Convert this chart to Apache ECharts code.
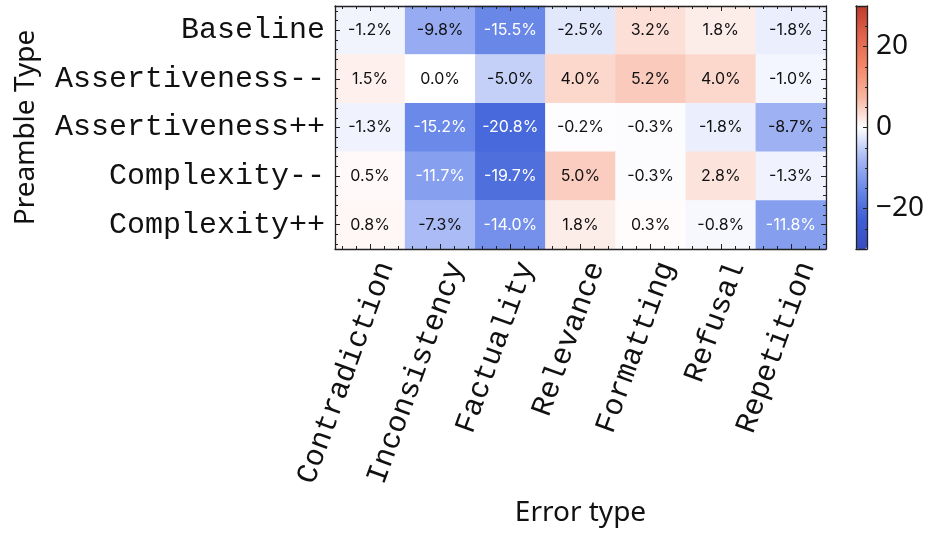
<!DOCTYPE html>
<html>
<head>
<meta charset="utf-8">
<script src="https://cdn.jsdelivr.net/npm/echarts@6/dist/echarts.min.js"></script>
<style>
html,body{margin:0;padding:0;background:#fff;}
#main{width:932px;height:533px;}
</style>
</head>
<body>
<div id="main"></div>
<script>
// categories
const errorTypes = ['Contradiction', 'Inconsistency', 'Factuality', 'Relevance', 'Formatting', 'Refusal', 'Repetition'];
const preambleTypes = ['Baseline', 'Assertiveness--', 'Assertiveness++', 'Complexity--', 'Complexity++'];

// values (%), one array per preamble row
const baseline = [-1.2, -9.8, -15.5, -2.5, 3.2, 1.8, -1.8];
const assertivenessMinus = [1.5, 0.0, -5.0, 4.0, 5.2, 4.0, -1.0];
const assertivenessPlus = [-1.3, -15.2, -20.8, -0.2, -0.3, -1.8, -8.7];
const complexityMinus = [0.5, -11.7, -19.7, 5.0, -0.3, 2.8, -1.3];
const complexityPlus = [0.8, -7.3, -14.0, 1.8, 0.3, -0.8, -11.8];

// colorbar
const cbMin = -30, cbMax = 30;
const cbTicks = [-20, 0, 20];
const cbMinorTicks = [-25, -15, -10, -5, 5, 10, 15, 25];

const rows = [baseline, assertivenessMinus, assertivenessPlus, complexityMinus, complexityPlus];
let heat = [];
rows.forEach(function (r, yi) {
	r.forEach(function (v, xi) { heat.push([xi, yi, v]); });
});

// frame ticks (major at cell centres, minor at fifths)
function minorOf(n) {
	let out = [];
	for (let k = -2; k <= n * 5 + 2; k++) {
		if (k % 5 === 0) continue;
		out.push(+(k / 5).toFixed(2));
	}
	return out;
}
const majX = errorTypes.map(function (d, i) { return i; });
const majY = preambleTypes.map(function (d, i) { return i; });
const minX = minorOf(errorTypes.length - 1);
const minY = minorOf(preambleTypes.length - 1);

const lineCol = '#222';
const monoFont = '"Liberation Mono", "DejaVu Sans Mono", monospace';
const sansFont = '"Noto Sans", sans-serif';

function tickAxis(dim, pos, n, vals, len, showLine, grid, mn, mx) {
	return {
		type: 'value', gridIndex: grid === undefined ? 0 : grid, position: pos, z: 10,
		min: mn === undefined ? -0.5 : mn, max: mx === undefined ? n - 0.5 : mx,
		inverse: dim === 'y' && grid === undefined,
		axisLine: {show: showLine, onZero: false, lineStyle: {color: lineCol, width: 1.3}},
		axisTick: {show: true, inside: true, length: len, customValues: vals, lineStyle: {color: lineCol, width: 1}},
		axisLabel: {show: false},
		splitLine: {show: false}
	};
}

let chart = echarts.init(document.getElementById('main'));
chart.setOption({
	animation: false,
	backgroundColor: '#fff',
	grid: [
		{left: 335, top: 6, width: 491, height: 243},
		{left: 856, top: 6, width: 11, height: 243}
	],
	xAxis: [
		{
			type: 'category', data: errorTypes, position: 'bottom', z: 10,
			name: 'Error type', nameLocation: 'middle', nameGap: 250,
			nameTextStyle: {fontFamily: sansFont, fontSize: 28, color: '#111'},
			axisLine: {show: true, onZero: false, lineStyle: {color: lineCol, width: 1.3}},
			axisTick: {show: true, inside: true, alignWithLabel: true, length: 5, lineStyle: {color: lineCol}},
			// blank first line pushes the rotated text sideways, like matplotlib's centred labels
			axisLabel: {rotate: 70, margin: 8, lineHeight: 34, fontFamily: monoFont, fontSize: 30, color: '#111', interval: 0,
				formatter: function (v) { return '\n' + v; }},
			splitLine: {show: false}
		},
		tickAxis('x', 'bottom', errorTypes.length, minX, 3, false),
		tickAxis('x', 'top', errorTypes.length, majX, 5, true),
		tickAxis('x', 'top', errorTypes.length, minX, 3, false),
		tickAxis('x', 'bottom', 1, [], 0, true, 1, 0, 1),
		tickAxis('x', 'top', 1, [], 0, true, 1, 0, 1)
	],
	yAxis: [
		{
			type: 'category', data: preambleTypes, inverse: true, position: 'left', z: 10,
			name: 'Preamble Type', nameLocation: 'middle', nameGap: 295,
			nameTextStyle: {fontFamily: sansFont, fontSize: 28, color: '#111'},
			axisLine: {show: true, onZero: false, lineStyle: {color: lineCol, width: 1.3}},
			axisTick: {show: true, inside: true, alignWithLabel: true, length: 5, lineStyle: {color: lineCol}},
			axisLabel: {margin: 10, fontFamily: monoFont, fontSize: 30, color: '#111'},
			splitLine: {show: false}
		},
		tickAxis('y', 'left', preambleTypes.length, minY, 3, false),
		tickAxis('y', 'right', preambleTypes.length, majY, 5, true),
		tickAxis('y', 'right', preambleTypes.length, minY, 3, false),
		{
			type: 'value', gridIndex: 1, position: 'right', min: cbMin, max: cbMax, z: 10,
			axisLine: {show: true, onZero: false, lineStyle: {color: lineCol, width: 1.3}},
			axisTick: {show: true, inside: true, length: 4, customValues: cbTicks, lineStyle: {color: lineCol}},
			axisLabel: {show: true, customValues: cbTicks, margin: 9, fontFamily: sansFont, fontSize: 28, color: '#111',
				formatter: function (v) { return String(v).replace('-', '\u2212'); }},
			splitLine: {show: false}
		},
		tickAxis('y', 'right', 1, cbMinorTicks, 2, false, 1, cbMin, cbMax),
		tickAxis('y', 'left', 1, [], 0, true, 1, cbMin, cbMax)
	],
	visualMap: {
		type: 'continuous', seriesIndex: 0, min: cbMin, max: cbMax,
		calculable: false, orient: 'vertical', left: 856, top: 6, padding: 0,
		itemWidth: 11, itemHeight: 243, text: null, hoverLink: false,
		inRange: {color: ['#3a4cc0', '#3e5fd7', '#6c8ae8', '#a8b9f5', '#ffffff', '#f8b4a0', '#f58769', '#e1644b', '#be3c2d']}
	},
	series: [{
		type: 'heatmap', xAxisIndex: 0, yAxisIndex: 0, data: heat,
		label: {
			show: true,
			formatter: function (p) {
				let v = p.value[2];
				let s = v.toFixed(1) + '%';
				return Math.abs(v) > 10 ? '{w|' + s + '}' : '{b|' + s + '}';
			},
			rich: {
				w: {color: '#fff', fontFamily: 'Inter, sans-serif', fontSize: 16},
				b: {color: '#111', fontFamily: 'Inter, sans-serif', fontSize: 16}
			}
		},
		itemStyle: {borderWidth: 0},
		emphasis: {disabled: true}
	}]
});
</script>
</body>
</html>
